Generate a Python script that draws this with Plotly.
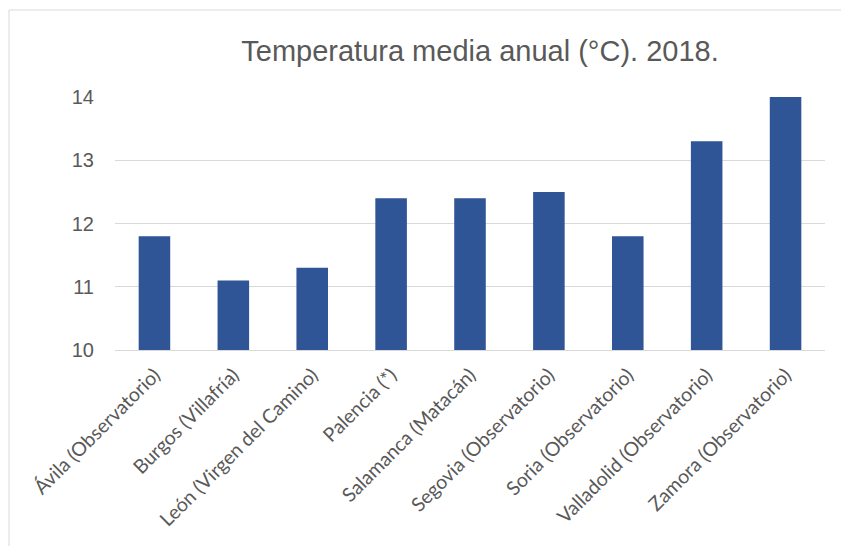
import plotly.graph_objects as go

categories = ["Ávila (Observatorio)", "Burgos (Villafría)", "León (Virgen del Camino)",
              "Palencia (*)", "Salamanca (Matacán)", "Segovia (Observatorio)",
              "Soria (Observatorio)", "Valladolid (Observatorio)", "Zamora (Observatorio)"]
values = [11.8, 11.1, 11.3, 12.4, 12.4, 12.5, 11.8, 13.3, 14.0]
y_ticks = [10, 11, 12, 13, 14]
title_text = "Temperatura media anual (°C). 2018."

W, H = 841, 546
L, R, T, B = 115, 16, 97, 196
pw, ph = W - L - R, H - T - B

fig = go.Figure(go.Bar(x=categories, y=values, marker_color="#2F5597",
                       marker_line_width=0))

fig.update_layout(
    width=W, height=H,
    margin=dict(l=L, r=R, t=T, b=B),
    paper_bgcolor="white", plot_bgcolor="white",
    bargap=0.6,
    showlegend=False,
    title=dict(text=title_text, x=480 / W, xanchor="center", y=1 - 51 / H, yanchor="middle",
               font=dict(family="Liberation Sans, Arial", size=29, color="#595959")),
    xaxis=dict(tickangle=-45, tickfont=dict(family="Lato, Carlito, Calibri", size=19.5, color="#595959"),
               ticklabelstandoff=5,
               showline=True, linecolor="#D9D9D9", linewidth=1, ticks="", showgrid=False),
    yaxis=dict(range=[10, 14], tickvals=y_ticks, showgrid=True, gridcolor="#D9D9D9", gridwidth=1,
               zeroline=False, showline=False, ticks="", ticklabelstandoff=20,
               tickfont=dict(family="Liberation Sans, Arial", size=20, color="#595959")),
    shapes=[dict(type="rect", xref="paper", yref="paper",
                 x0=(9 - L) / pw, x1=1 + (W + 10 - (W - R)) / pw,
                 y0=-(H + 10 - (H - B)) / ph, y1=1 + (T - 10) / ph,
                 line=dict(color="#D9D9D9", width=1), fillcolor="rgba(0,0,0,0)", layer="below")],
)

fig.write_html("out.html")
